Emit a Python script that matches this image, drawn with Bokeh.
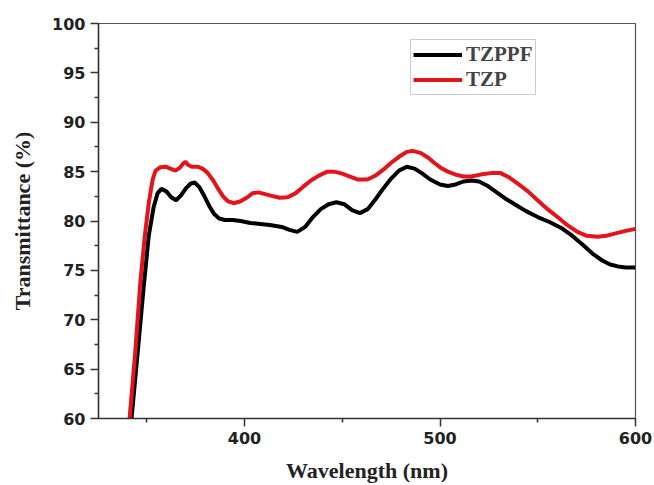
from bokeh.plotting import figure
from bokeh.models import Range1d, FixedTicker, Legend, LegendItem
from bokeh.embed import file_html
from bokeh.resources import INLINE

# TZPPF (black)
wl_tzppf = [342.2, 345.5, 348.5, 351, 353.5, 355.5, 357.5, 360, 362.5, 365, 367.5, 370, 372.5, 374.5,
            377, 379.5, 382, 384.5, 387, 390, 394, 398, 403, 408, 413, 419, 423, 427, 431, 435, 439,
            443, 447, 451, 455, 459, 463, 467, 471, 475, 479, 483, 487, 491, 495, 500, 504, 508, 512,
            516, 520, 524, 529, 534, 539, 544, 550, 556, 562, 567, 573, 578, 583, 587, 591, 595, 600]
t_tzppf = [60, 67, 73.5, 78.5, 81.4, 82.8, 83.25, 83.0, 82.4, 82.1, 82.6, 83.3, 83.8, 83.9,
           83.4, 82.5, 81.5, 80.7, 80.25, 80.1, 80.1, 80.0, 79.8, 79.7, 79.6, 79.4, 79.1, 78.9, 79.4, 80.4, 81.2,
           81.7, 81.9, 81.7, 81.1, 80.8, 81.2, 82.2, 83.3, 84.3, 85.1, 85.5, 85.3, 84.8, 84.2, 83.7, 83.55, 83.7, 84.0,
           84.1, 84.0, 83.6, 82.9, 82.2, 81.6, 81.0, 80.4, 79.9, 79.3, 78.6, 77.6, 76.7, 76.0, 75.6, 75.4, 75.3, 75.3]

# TZP (red)
wl_tzp = [341.2, 344, 346.8, 349, 351, 353, 354.5, 357, 359.6, 362, 364.7, 367, 368.5, 369.8, 371, 373,
          376, 378.5, 381, 384, 386.7, 389, 391.5, 394.4, 398, 401.5, 404, 407.2, 411, 414.8, 418, 422,
          426, 430.2, 434, 438, 442.4, 446, 450, 454, 458, 462.9, 467, 471, 475, 479, 483, 486, 490,
          494, 497, 500.3, 504, 508, 512, 516, 520.7, 526, 531, 535.5, 539.6, 545, 549.9, 555, 560.1,
          565, 570.3, 575, 580.6, 585, 590.8, 595, 600]
t_tzp = [60, 66.5, 74, 78.5, 81.8, 84.2, 85.1, 85.45, 85.5, 85.3, 85.1, 85.4, 85.8, 86.0, 85.7, 85.5,
         85.5, 85.3, 84.9, 84.1, 83.2, 82.5, 82.0, 81.8, 82.0, 82.4, 82.8, 82.9, 82.7, 82.5, 82.35, 82.4,
         82.8, 83.5, 84.1, 84.6, 85.0, 85.0, 84.8, 84.5, 84.2, 84.2, 84.6, 85.2, 85.9, 86.5, 87.0, 87.1, 86.9,
         86.4, 85.9, 85.4, 85.0, 84.7, 84.5, 84.5, 84.7, 84.85, 84.85, 84.4, 83.8, 83.0, 82.1, 81.2, 80.4,
         79.6, 78.9, 78.5, 78.4, 78.5, 78.8, 79.0, 79.2]

x_ticks = [400, 500, 600]
x_minor = [350, 450, 550]
y_ticks = [60, 65, 70, 75, 80, 85, 90, 95, 100]
y_minor = [62.5, 67.5, 72.5, 77.5, 82.5, 87.5, 92.5, 97.5]

p = figure(width=652, height=485, output_backend="svg", toolbar_location=None,
           x_range=Range1d(325.3, 600), y_range=Range1d(60, 100),
           min_border_left=98, min_border_right=17, min_border_top=23, min_border_bottom=67)

p.xgrid.visible = False
p.ygrid.visible = False
p.outline_line_color = "#555555"
p.outline_line_width = 1.2

r1 = p.line(wl_tzppf, t_tzppf, line_color="black", line_width=4)
r2 = p.line(wl_tzp, t_tzp, line_color="#e3141b", line_width=4)

p.xaxis.ticker = FixedTicker(ticks=x_ticks, minor_ticks=x_minor)
p.yaxis.ticker = FixedTicker(ticks=y_ticks, minor_ticks=y_minor)

for ax in (p.xaxis[0], p.yaxis[0]):
    ax.axis_line_color = "#333333"
    ax.axis_line_width = 1.5
    ax.major_tick_line_color = "#333333"
    ax.minor_tick_line_color = "#333333"
    ax.major_tick_line_width = 1.5
    ax.minor_tick_line_width = 1.5
    ax.major_tick_in = 0
    ax.major_tick_out = 8
    ax.minor_tick_in = 0
    ax.minor_tick_out = 4
    ax.major_label_text_font = "DejaVu Sans"
    ax.major_label_text_font_style = "bold"
    ax.major_label_text_font_size = "16px"
    ax.major_label_text_color = "#222222"
    ax.major_label_standoff = 5
    ax.axis_label_text_font = "Liberation Serif"
    ax.axis_label_text_font_style = "bold"
    ax.axis_label_text_font_size = "22px"
    ax.axis_label_text_color = "#222222"

p.xaxis.axis_label = "Wavelength (nm)"
p.yaxis.axis_label = "Transmittance (%)"
p.xaxis.axis_label_standoff = 11
p.yaxis.axis_label_standoff = 14

legend = Legend(items=[LegendItem(label="TZPPF", renderers=[r1]),
                       LegendItem(label="TZP", renderers=[r2])],
                location=(312, 323))
legend.border_line_color = "#999999"
legend.border_line_width = 1
legend.padding = 2
legend.spacing = 0
legend.margin = 0
legend.glyph_width = 49
legend.glyph_height = 23
legend.label_height = 23
legend.label_standoff = 4
legend.label_text_font = "Liberation Serif"
legend.label_text_font_style = "bold"
legend.label_text_font_size = "21px"
p.add_layout(legend)

open("out.html", "w").write(file_html(p, INLINE))
